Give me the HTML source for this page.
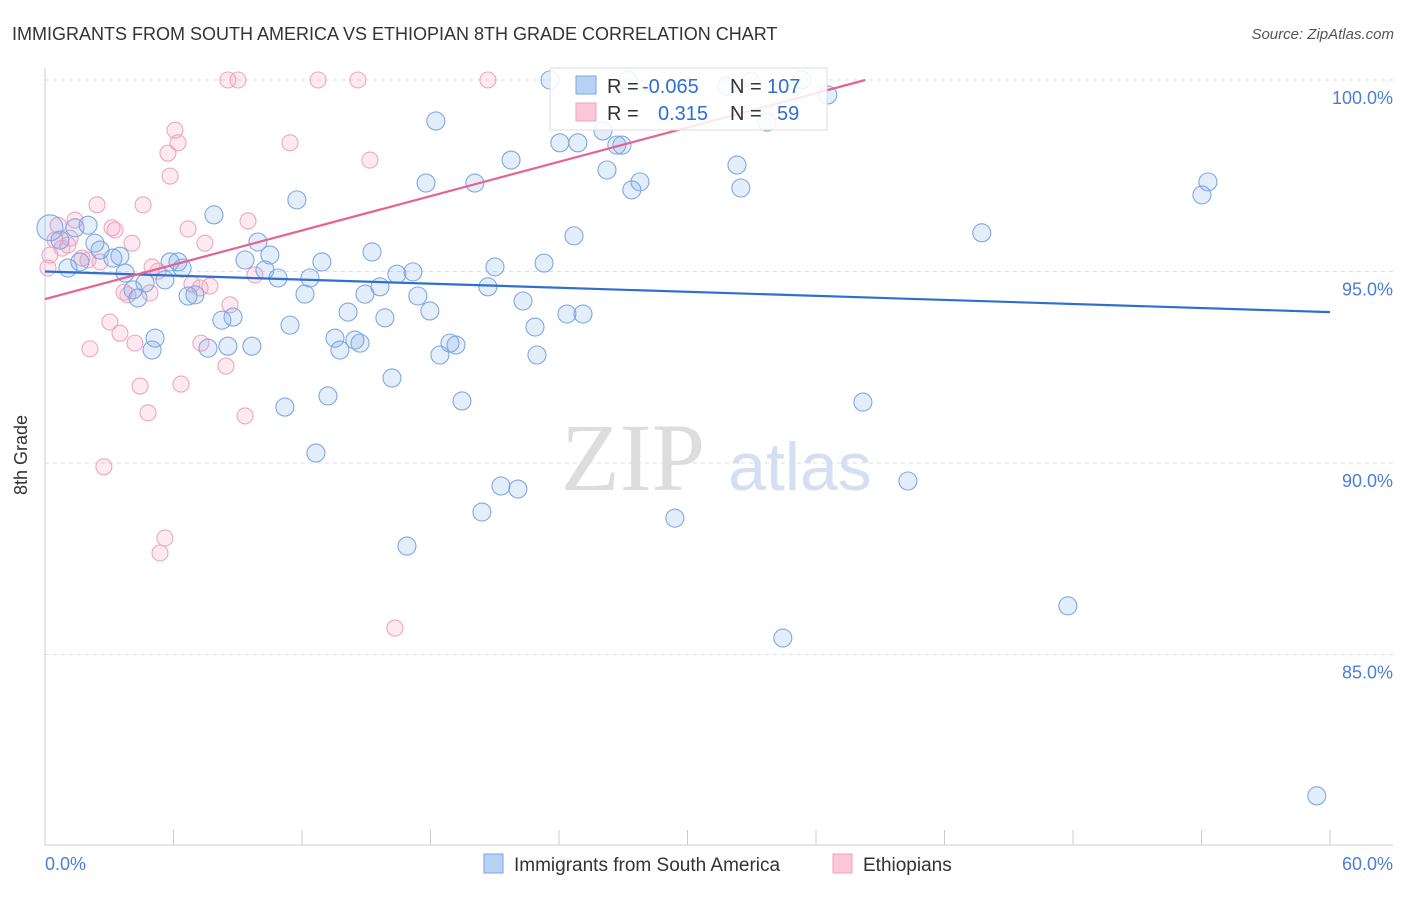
<!DOCTYPE html>
<html><head><meta charset="utf-8"><style>
body{margin:0;background:#fff;font-family:"Liberation Sans",sans-serif;}
svg text{font-family:"Liberation Sans",sans-serif;}
</style></head><body>
<svg width="1406" height="892" viewBox="0 0 1406 892">
<text x="12" y="40" font-size="18" fill="#333">IMMIGRANTS FROM SOUTH AMERICA VS ETHIOPIAN 8TH GRADE CORRELATION CHART</text>
<text x="1394" y="39" font-size="15" fill="#555" font-style="italic" text-anchor="end">Source: ZipAtlas.com</text>
<g id="grid"></g>
<text x="633" y="490" font-size="96" fill="#ddd" text-anchor="middle" style="font-family:'Liberation Serif',serif">ZIP</text>
<text x="800" y="490" font-size="68" fill="#d4e0f2" text-anchor="middle">atlas</text>
<g id="pts"></g>
<g id="lines"></g>
<text x="27" y="455" font-size="18" fill="#333" text-anchor="middle" transform="rotate(-90 27 455)">8th Grade</text>
<text x="45" y="870" font-size="18" fill="#4a7fd6">0.0%</text>
<text x="1393" y="870" font-size="18" fill="#4a7fd6" text-anchor="end">60.0%</text>
<g>
<rect x="550" y="68" width="277" height="62" fill="#fff" fill-opacity="0.85" stroke="#ddd"/>
<rect x="576" y="76" width="20" height="18" fill="#b8d2f4" stroke="#7aa6e6"/>
<rect x="576" y="103" width="20" height="18" fill="#fcc8d8" stroke="#eea0ba"/>
<text x="607" y="93" font-size="20" fill="#333">R = <tspan fill="#2f6fd0" x="642">-0.065</tspan></text>
<text x="730" y="93" font-size="20" fill="#333">N = <tspan fill="#2f6fd0" x="767">107</tspan></text>
<text x="607" y="120" font-size="20" fill="#333">R = <tspan fill="#2f6fd0" x="658">0.315</tspan></text>
<text x="730" y="120" font-size="20" fill="#333">N = <tspan fill="#2f6fd0" x="777">59</tspan></text>
</g>
<g>
<rect x="484" y="854" width="19" height="19" fill="#b8d2f4" stroke="#7aa6e6"/>
<text x="514" y="871" font-size="19" fill="#333">Immigrants from South America</text>
<rect x="833" y="854" width="19" height="19" fill="#fcc8d8" stroke="#eea0ba"/>
<text x="863" y="871" font-size="19" fill="#333">Ethiopians</text>
</g>
</svg>
<script>
const yTicks=[100,95,90,85];
const xTicks=[0,6,12,18,24,30,36,42,48,54,60];
const blueX=[0.23,0.70,1.07,1.40,2.01,2.33,2.57,1.63,3.17,3.50,3.74,4.11,4.34,4.67,5.14,5.00,5.60,5.84,6.21,6.40,6.68,7.00,7.61,7.89,8.26,8.54,8.78,9.34,9.66,9.94,10.27,10.50,10.88,11.20,11.44,11.76,12.14,12.37,12.65,12.93,13.21,13.54,13.77,14.15,14.47,14.71,14.94,15.27,15.64,15.87,16.20,16.43,16.90,17.18,17.41,17.79,17.97,18.25,18.44,18.91,19.19,19.47,20.07,20.40,20.68,21.01,21.29,21.76,22.08,22.32,22.88,22.97,23.30,23.58,24.04,24.37,24.70,24.88,25.12,26.05,26.24,26.70,26.94,27.22,27.40,27.78,29.41,31.84,32.31,32.49,33.71,34.45,35.34,36.55,38.19,40.29,43.74,47.76,54.02,54.30,59.38];
const blueY=[96.14,95.82,95.09,96.14,96.21,95.74,95.56,95.25,95.35,95.40,94.96,94.52,94.31,94.70,93.26,92.95,94.78,95.25,95.25,95.09,94.36,94.39,93.00,96.48,93.73,93.05,93.81,95.30,93.05,95.77,95.04,95.43,94.83,91.46,93.60,96.87,94.41,94.83,90.26,95.25,91.75,93.26,92.95,93.94,93.21,93.13,94.41,95.51,94.60,93.79,92.22,94.93,87.83,94.99,94.36,97.31,93.97,98.93,92.82,93.13,93.08,91.62,97.31,88.72,94.60,95.12,89.40,97.91,89.32,94.23,93.55,92.82,95.22,100,98.36,93.89,95.93,98.36,93.89,98.67,97.65,98.30,98.30,100,97.13,97.34,88.56,99.84,97.78,97.18,98.90,85.43,100,99.61,91.59,89.53,96.01,86.27,97.00,97.34,81.31];
const pinkX=[0.14,0.23,0.47,0.61,0.79,1.07,1.17,1.40,1.73,2.01,2.10,2.43,2.57,2.75,3.03,3.13,3.27,3.50,3.69,3.87,4.06,4.20,4.44,4.58,4.81,4.90,5.00,5.28,5.37,5.60,5.74,5.84,6.07,6.21,6.35,6.68,6.86,7.24,7.28,7.47,7.70,8.45,8.54,8.64,9.01,9.34,9.48,9.80,11.44,12.75,14.61,15.17,16.34,20.68,32.96];
const pinkY=[95.09,95.43,95.82,96.21,95.61,95.69,95.87,96.34,95.35,95.30,92.98,96.74,95.25,89.90,93.68,96.14,96.08,93.39,94.46,94.39,95.74,93.13,92.01,96.74,91.31,94.44,95.12,95.01,87.65,88.04,98.09,97.49,98.69,98.36,92.06,96.11,94.67,94.57,93.13,95.74,94.62,92.53,100,94.13,100,91.23,96.32,94.91,98.36,100,100,97.91,85.69,100,100];
const blueTrend=[95.0,93.94];
const pinkTrend=[94.28,0,38.3,100];
const NS='http://www.w3.org/2000/svg';
const X=v=>45+v*21.417, Y=v=>80+(100-v)*38.3;
function mk(t,a,p){const e=document.createElementNS(NS,t);for(const k in a)e.setAttribute(k,a[k]);document.getElementById(p).appendChild(e);return e;}
yTicks.forEach(v=>{
 const g=mk('line',{x1:45,x2:1393,y1:Y(v),y2:Y(v),stroke:'#ddd','stroke-dasharray':'4,4'},'grid');
 
 
 const t=mk('text',{x:1393,y:Y(v)+24,'font-size':18,fill:'#4a7fd6','text-anchor':'end'},'grid');
 t.textContent=v.toFixed(1)+'%';
 
 
});
const ax=mk('line',{x1:45,x2:45,y1:68,y2:845,stroke:'#ccc'},'grid');


const bx=mk('line',{x1:45,x2:1393,y1:845,y2:845,stroke:'#ccc'},'grid');


xTicks.forEach(v=>{
 const l=mk('line',{x1:X(v),x2:X(v),y1:830,y2:845,stroke:'#ccc'},'grid');
 
 
});
pinkX.forEach((x,i)=>{
 const c=mk('circle',{cx:X(x),cy:Y(pinkY[i]),r:8,fill:'rgba(244,160,190,0.22)',stroke:'#eea6c0','stroke-width':1.1},'pts');
 
 
});
blueX.forEach((x,i)=>{
 const c=mk('circle',{cx:X(x),cy:Y(blueY[i]),r:i==0?13:9,fill:'rgba(120,165,230,0.2)',stroke:'#7ea8e4','stroke-width':1.1},'pts');
 
 
});
const bl=mk('line',{x1:X(0),y1:Y(blueTrend[0]),x2:X(60),y2:Y(blueTrend[1]),stroke:'#2f6fd0','stroke-width':2.2},'lines');


const pl=mk('line',{x1:X(pinkTrend[1]),y1:Y(pinkTrend[0]),x2:X(pinkTrend[2]),y2:Y(pinkTrend[3]),stroke:'#e4638f','stroke-width':2.2},'lines');


</script>
</body></html>
